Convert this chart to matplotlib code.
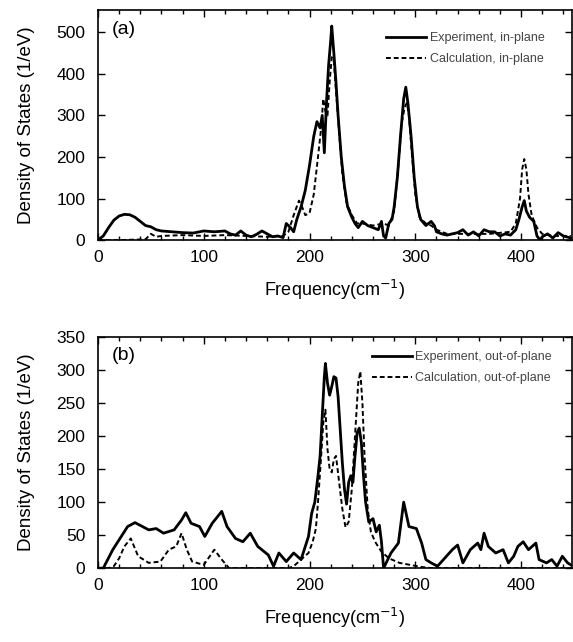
import numpy as np
import matplotlib.pyplot as plt
from matplotlib.ticker import MultipleLocator

plt.rcParams['font.family'] = ['Liberation Sans', 'DejaVu Sans']

# panel (a): in-plane
freq_a_exp = [0, 5, 10, 15, 20, 25, 30, 35, 40, 45, 50, 55, 60, 70, 80, 90, 100, 110, 120,
              125, 130, 135, 140, 145, 150, 155, 160, 165, 170, 175, 178, 182, 185, 188, 192,
              196, 200, 204, 207, 210, 212, 214, 216, 218, 220, 221, 223, 225, 227, 230, 233,
              236, 240, 243, 246, 250, 255, 260, 265, 268, 270, 272, 275, 278, 280, 283, 286,
              289, 291, 293, 296, 299, 302, 305, 310, 315, 318, 320, 325, 330, 340, 345, 350,
              355, 360, 365, 370, 375, 380, 385, 390, 395, 398, 401, 403, 405, 408, 412, 415,
              418, 420, 425, 430, 435, 440, 447]
dos_a_exp = [0, 10, 30, 48, 58, 62, 61, 55, 45, 35, 32, 25, 22, 20, 18, 17, 22, 20, 22,
             15, 12, 22, 12, 8, 14, 22, 15, 8, 10, 6, 40, 30, 20, 50, 80,
             120, 180, 250, 285, 270, 300, 210, 330, 420, 480, 515, 450, 380, 300, 200, 130,
             80, 55, 40, 30, 45, 35, 30, 25, 45, 10, 5, 40, 50, 80, 150, 250,
             340, 368, 330, 250, 150, 80, 50, 35, 45, 35, 20, 15, 12, 18, 25, 12,
             20, 10, 25, 20, 20, 10, 15, 12, 25, 50, 80, 95, 70, 55, 45, 10,
             0, 8, 15, 5, 18, 10, 5]

freq_a_calc = [0, 20, 45, 50, 55, 60, 80, 100, 120, 140, 160, 175, 180, 185, 190, 193, 196,
               200, 204, 208, 211, 213, 215, 217, 219, 221, 223, 225, 228, 231, 235, 240, 245,
               250, 260, 270, 275, 280, 284, 287, 290, 292, 294, 297, 300, 304, 310, 315, 320,
               330, 350, 370, 390, 395, 399, 401, 403, 405, 407, 410, 415, 420, 430, 447]
dos_a_calc = [0, 0, 2, 15, 8, 10, 12, 10, 12, 10, 8, 10, 20, 60, 95, 80, 60,
              65, 110, 200, 270, 340, 310, 300, 380, 440, 430, 360, 260, 160, 90, 60, 40,
              40, 35, 40, 35, 70, 180, 280, 320, 330, 300, 200, 110, 55, 40, 35, 25,
              15, 15, 15, 20, 40, 100, 170, 195, 170, 110, 60, 30, 15, 10, 10]

# panel (b): out-of-plane
freq_b_exp = [0, 5, 14, 28, 35, 48, 55, 62, 72, 79, 83, 88, 96, 101, 108, 117, 122, 130,
              137, 144, 151, 161, 166, 171, 178, 185, 192, 199, 202, 205, 208, 210, 212, 214,
              215, 217, 219, 221, 223, 225, 227, 229, 231, 233, 235, 237, 239, 241, 243, 245,
              247, 249, 251, 253, 256, 260, 263, 266, 268, 270, 277, 284, 289, 294, 301, 306,
              310, 315, 321, 335, 340, 345, 352, 359, 362, 365, 369, 376, 383, 388, 393, 397,
              402, 407, 414, 417, 424, 429, 434, 439, 444, 447]
dos_b_exp = [0, 0, 28, 63, 69, 58, 60, 53, 58, 73, 84, 68, 63, 48, 68, 86, 63, 45,
             40, 53, 33, 20, 3, 23, 10, 23, 13, 48, 83, 100, 140, 170, 230, 290,
             310, 280, 262, 275, 290, 288, 260, 210, 160, 120, 97, 130, 140, 130, 170, 205,
             212, 190, 140, 100, 70, 75, 55, 65, 40, 0, 23, 38, 100, 63, 60, 38,
             13, 8, 3, 28, 35, 8, 28, 38, 28, 53, 33, 23, 28, 8, 18, 33,
             40, 28, 38, 13, 8, 13, 3, 18, 8, 5]

freq_b_calc = [0, 10, 15, 20, 25, 31, 38, 48, 59, 67, 74, 79, 84, 89, 100, 110, 117, 124,
               180, 185, 192, 199, 203, 206, 208, 211, 213, 215, 217, 219, 221, 223, 225,
               228, 231, 234, 237, 240, 243, 246, 248, 250, 252, 255, 258, 262, 268, 275,
               285, 295, 305, 315, 447]
dos_b_calc = [0, 0, 3, 15, 33, 45, 18, 8, 10, 28, 33, 53, 28, 10, 5, 28, 13, 0,
              0, 3, 13, 23, 40, 60, 100, 170, 220, 240, 180, 150, 145, 165, 170,
              130, 90, 62, 70, 120, 200, 280, 298, 250, 170, 90, 55, 40, 25, 15,
              8, 5, 2, 0, 0]

fig = plt.figure(figsize=(5.73, 6.42), dpi=100)
ax_a = fig.add_axes([0.171, 0.626, 0.827, 0.358])
ax_b = fig.add_axes([0.171, 0.115, 0.827, 0.360])

panels = [
    (ax_a, freq_a_exp, dos_a_exp, freq_a_calc, dos_a_calc, 'in-plane', '(a)', 553, 100,
     (0.943, 0.905)),
    (ax_b, freq_b_exp, dos_b_exp, freq_b_calc, dos_b_calc, 'out-of-plane', '(b)', 350, 50,
     (0.958, 0.94)),
]

for ax, fe, de, fc, dc, kind, tag, ymax, ystep, leg_pos in panels:
    ax.plot(fe, de, color='black', lw=2.0, label='Experiment, ' + kind)
    ax.plot(fc, dc, color='black', lw=1.4, ls=(0, (2.5, 1.5)), label='Calculation, ' + kind)
    ax.set_xlim(0, 448)
    ax.set_ylim(0, ymax)
    ax.xaxis.set_major_locator(MultipleLocator(100))
    ax.xaxis.set_minor_locator(MultipleLocator(20))
    ax.yaxis.set_major_locator(MultipleLocator(ystep))
    ax.tick_params(which='both', direction='in', top=True, right=True, labelsize=12.5)
    ax.tick_params(axis='x', pad=7)
    ax.tick_params(axis='y', pad=9)
    ax.tick_params(which='major', length=5, width=1)
    ax.tick_params(which='minor', length=3, width=1)
    for s in ax.spines.values():
        s.set_linewidth(1.2)
    ax.set_xlabel('Frequency(cm$^{-1}$)', fontsize=13)
    ax.set_ylabel('Density of States (1/eV)', fontsize=13.5)
    ax.xaxis.set_label_coords(0.5, -0.165)
    ax.yaxis.set_label_coords(-0.133, 0.5)
    ax.text(0.028, 0.955, tag, transform=ax.transAxes, fontsize=14, va='top', ha='left')
    ax.legend(loc='upper right', frameon=False, fontsize=9, handlelength=3.2,
              handletextpad=0.3, labelspacing=0.75, borderpad=0, borderaxespad=0,
              labelcolor='#444444', bbox_to_anchor=leg_pos)

fig.savefig('out.png', dpi=100)
